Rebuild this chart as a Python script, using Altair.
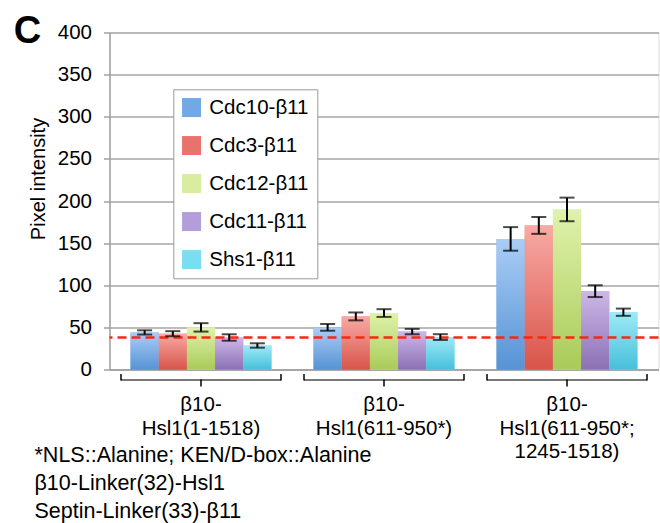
import altair as alt
import pandas as pd

# Constructs (x groups) and septin fusions (bars within each group)
groups = [
    "β10-\nHsl1(1-1518)",
    "β10-\nHsl1(611-950*)",
    "β10-\nHsl1(611-950*;\n1245-1518)",
]
series = ["Cdc10-β11", "Cdc3-β11", "Cdc12-β11", "Cdc11-β11", "Shs1-β11"]

# Mean pixel intensity, one list per construct (order follows `series`)
means_g1 = [44, 42.5, 50, 38, 28.5]
means_g2 = [50, 63, 67, 45, 38.5]
means_g3 = [155, 171, 190, 93, 68]

# Error (+/-) for each bar
errs_g1 = [2.5, 3, 5, 3.8, 2.6]
errs_g2 = [4, 4.7, 4.6, 3.2, 3.4]
errs_g3 = [14, 10, 14, 7, 4.3]

background_level = 38

footnote = [
    "*NLS::Alanine; KEN/D-box::Alanine",
    "β10-Linker(32)-Hsl1",
    "Septin-Linker(33)-β11",
]

legend_colors = ["#72A8E8", "#E8736C", "#D8EDA0", "#B39DDB", "#7ADEF0"]
grad_top = ["#AACDF6", "#F8AAA4", "#E0F2AC", "#CCB8E8", "#9EEAF7"]
grad_bottom = ["#5693D4", "#D8544A", "#A9CB58", "#8C70B4", "#45C0DA"]

FONT = "Liberation Sans"

rows = []
for g, ms, es in zip(groups, [means_g1, means_g2, means_g3], [errs_g1, errs_g2, errs_g3]):
    for s, m, e in zip(series, ms, es):
        rows.append({"group": g, "series": s, "mean": m, "lo": m - e, "hi": m + e})
df = pd.DataFrame(rows)

x_enc = alt.X(
    "group:N",
    sort=groups,
    scale=alt.Scale(domain=groups, paddingInner=0.23, paddingOuter=0.115),
    axis=alt.Axis(
        title=None,
        labelExpr="split(datum.value, '\\n')",
        labelFontSize=20.5,
        labelFont=FONT,
        labelColor="black",
        labelLineHeight=23.5,
        labelPadding=25,
        labelAngle=0,
        ticks=False,
        tickSize=0,
        domainColor="#A0A0A0",
        domainWidth=1.5,
        grid=False,
    ),
)
xoff_enc = alt.XOffset(
    "series:N",
    sort=series,
    scale=alt.Scale(domain=series, paddingInner=0, paddingOuter=0),
)
y_enc = alt.Y(
    "mean:Q",
    scale=alt.Scale(domain=[0, 400], nice=False),
    axis=alt.Axis(
        values=list(range(0, 401, 50)),
        title="Pixel intensity",
        titleFont=FONT,
        titleFontSize=20,
        titleFontWeight="normal",
        titleColor="black",
        titleX=-71,
        titleY=146,
        titleAlign="center",
        titleBaseline="middle",
        labelFont=FONT,
        labelFontSize=20.5,
        labelColor="black",
        labelPadding=12,
        tickSize=6,
        tickColor="#A0A0A0",
        tickWidth=1.5,
        domainColor="#A0A0A0",
        domainWidth=1.5,
        gridColor="#A6A6A6",
        gridWidth=1.3,
    ),
)

base = alt.Chart(df)

# Solid bars carry the legend; gradient bars are drawn over them
legend_bars = base.mark_bar().encode(
    x=x_enc,
    xOffset=xoff_enc,
    y=y_enc,
    color=alt.Color(
        "series:N",
        sort=series,
        scale=alt.Scale(domain=series, range=legend_colors),
        legend=alt.Legend(
            title=None,
            orient="none",
            legendX=63.8,
            legendY=56.8,
            symbolType="square",
            symbolSize=361,
            symbolStrokeWidth=0,
            labelFont=FONT,
            labelFontSize=20.5,
            labelColor="black",
            labelOffset=7.5,
            rowPadding=17,
            padding=8,
            strokeColor="#9A9A9A",
            fillColor="white",
        ),
    ),
)

gradient_layers = []
for s, top, bottom in zip(series, grad_top, grad_bottom):
    grad = alt.Gradient(
        gradient="linear",
        stops=[
            alt.GradientStop(color=top, offset=0),
            alt.GradientStop(color=bottom, offset=1),
        ],
        x1=0, x2=0, y1=0, y2=1,
    )
    gradient_layers.append(
        base.transform_filter(alt.datum.series == s)
        .mark_bar(color=grad)
        .encode(x=x_enc, xOffset=xoff_enc, y=y_enc)
    )

# Background level (dashed red)
thr = alt.Chart(pd.DataFrame({"level": [background_level]})).mark_rule(
    color="#F42A10", strokeDash=[9, 5], strokeWidth=2.5
).encode(y="level:Q")

# Error bars
err_rule = base.mark_rule(color="black", strokeWidth=2).encode(
    x=x_enc, xOffset=xoff_enc, y="lo:Q", y2="hi:Q"
)
err_lo = base.mark_tick(color="black", thickness=2, size=15).encode(
    x=x_enc, xOffset=xoff_enc, y="lo:Q"
)
err_hi = base.mark_tick(color="black", thickness=2, size=15).encode(
    x=x_enc, xOffset=xoff_enc, y="hi:Q"
)

# Brackets under each construct
gdf = pd.DataFrame({"group": groups})
bracket_h = alt.Chart(gdf).mark_tick(
    color="black", thickness=1.5, size=160, yOffset=10.5
).encode(x=x_enc, y=alt.datum(0))
bracket_l = alt.Chart(gdf).mark_rule(
    color="black", strokeWidth=1.5, xOffset=-80, yOffset=4.5, y2Offset=11
).encode(x=x_enc, y=alt.datum(0), y2=alt.datum(0))
bracket_r = alt.Chart(gdf).mark_rule(
    color="black", strokeWidth=1.5, xOffset=80, yOffset=4.5, y2Offset=11
).encode(x=x_enc, y=alt.datum(0), y2=alt.datum(0))
bracket_c = alt.Chart(gdf).mark_rule(
    color="black", strokeWidth=1.5, yOffset=10, y2Offset=17
).encode(x=x_enc, y=alt.datum(0), y2=alt.datum(0))

# Panel letter and footnote
panel = alt.Chart(pd.DataFrame({"t": ["C"]})).mark_text(
    font=FONT, fontSize=38, fontWeight="bold", align="center", baseline="middle", color="black"
).encode(text="t:N", x=alt.value(-82), y=alt.value(-1))

note = alt.Chart(pd.DataFrame({"t": ["\n".join(footnote)]})).mark_text(
    font=FONT, fontSize=21.5, align="left", baseline="top", color="black",
    lineBreak="\n", lineHeight=28,
).encode(text="t:N", x=alt.value(-75), y=alt.value(412))

chart = alt.layer(
    legend_bars,
    *gradient_layers,
    thr,
    err_rule,
    err_lo,
    err_hi,
    bracket_h,
    bracket_l,
    bracket_r,
    bracket_c,
    panel,
    note,
).properties(
    width=549,
    height=337,
    autosize=alt.AutoSizeParams(type="none"),
    padding={"left": 109.5, "top": 32.5, "right": 1.5, "bottom": 153.5},
).configure_view(stroke=None).configure(background="white")

chart.save("out.html", embed_options={"renderer": "svg", "actions": False})
